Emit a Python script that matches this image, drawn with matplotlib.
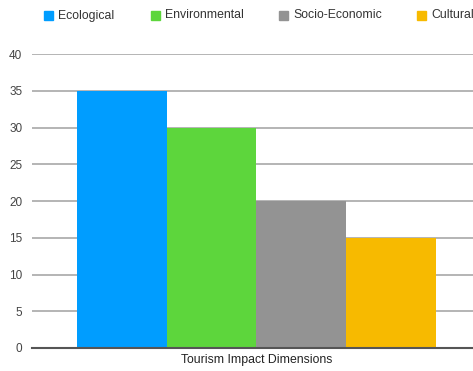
import matplotlib
matplotlib.use("Agg")
import matplotlib.pyplot as plt
from matplotlib.patches import Rectangle

plt.rcParams["font.family"] = ["Liberation Sans", "DejaVu Sans"]

categories = ["Ecological", "Environmental", "Socio-Economic", "Cultural"]
values = [35, 30, 20, 15]
colors = ["#009DFF", "#5DD63C", "#939393", "#F7BA00"]
group_label = "Tourism Impact Dimensions"
yticks = [0, 5, 10, 15, 20, 25, 30, 35, 40]

fig = plt.figure(figsize=(4.73, 3.71), dpi=100)
ax = fig.add_axes([0.0677, 0.062, 0.949, 0.792])

width = 0.2
offsets = [-0.3, -0.1, 0.1, 0.3]
for off, v, c in zip(offsets, values, colors):
    ax.bar(off, v, width=width, color=c, zorder=2)

ax.set_xlim(-0.5, 0.5)
ax.set_ylim(0, 40)
ax.set_yticks(yticks)
ax.set_xticks([0])
ax.set_xticklabels([group_label], fontsize=8.8, color="#222222")
ax.tick_params(axis="x", length=0, pad=4)
ax.tick_params(axis="y", length=0, pad=7, labelsize=8.5, labelcolor="#444444")
ax.grid(axis="y", color="#b4b4b4", lw=1.4, zorder=0)
for s in ["top", "right", "left"]:
    ax.spines[s].set_visible(False)
ax.spines["bottom"].set_color("#555555")
ax.spines["bottom"].set_linewidth(1.5)

# legend across the top
leg_x = [44, 151, 279, 417]
for x, lab, c in zip(leg_x, categories, colors):
    fig.patches.append(Rectangle((x / 473, 1 - 20 / 371), 9 / 473, 9 / 371,
                                 transform=fig.transFigure, color=c))
    fig.text((x + 14) / 473, 1 - 15.5 / 371, lab, fontsize=8.8, color="#333333",
             va="center", ha="left")

fig.savefig("out.png", dpi=100)
